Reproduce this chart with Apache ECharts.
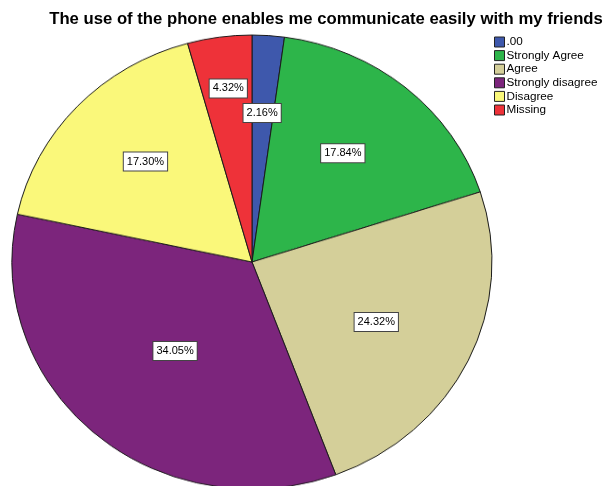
<!DOCTYPE html>
<html>
<head>
<meta charset="utf-8">
<script src="https://cdn.jsdelivr.net/npm/echarts@6/dist/echarts.min.js"></script>
<style>
html,body{margin:0;padding:0;background:#fff;}
#wrap{position:relative;width:606px;height:486px;overflow:hidden;}
#pie{position:absolute;left:0;top:0;width:606px;height:520px;transform:scaleY(0.9458);transform-origin:0 0;}
#c{position:absolute;left:0;top:0;width:606px;height:486px;}
</style>
</head>
<body>
<div id="wrap"><div id="pie"></div><div id="c"></div></div>
<script>
const titleText = 'The use of the phone enables me communicate easily with my friends';
const categories = ['.00', 'Strongly Agree', 'Agree', 'Strongly disagree', 'Disagree', 'Missing'];
const counts = [4, 33, 45, 63, 32, 8];
const percents = [2.16, 17.84, 24.32, 34.05, 17.30, 4.32];

// style settings (not data)
const colors = ['#3E58AC', '#2DB54A', '#D4CF99', '#7C257C', '#FAF87A', '#EE3239'];
const labelRadiusFrac = [0.622, 0.59, 0.575, 0.49, 0.61, 0.73];
const FONT = 'Liberation Sans, Arial, sans-serif';
const SQUASH = 0.9458;

const total = counts.reduce((a, b) => a + b, 0);
let acc = 0;
const midAngles = counts.map(v => { const m = acc + v / 2; acc += v; return m; });

// Pie (drawn on a vertically squashed canvas to give the elliptical look)
const pieChart = echarts.init(document.getElementById('pie'), null, {renderer: 'canvas'});
pieChart.setOption({
  animation: false,
  series: [{
    type: 'pie',
    center: [252, 262 / SQUASH],
    radius: [0, 240],
    startAngle: 90,
    clockwise: true,
    silent: true,
    data: categories.map((name, i) => ({name: name, value: counts[i], itemStyle: {color: colors[i]}})),
    itemStyle: {borderColor: '#1a1a1a', borderWidth: 1},
    label: {show: false},
    labelLine: {show: false}
  }]
});

// Title, legend and percent labels
const chart = echarts.init(document.getElementById('c'), null, {renderer: 'canvas'});
chart.setOption({
  animation: false,
  title: {
    text: titleText,
    left: 326,
    top: 11,
    textAlign: 'center',
    textStyle: {fontFamily: FONT, fontWeight: 'bold', fontSize: 16.7, color: '#000'},
    padding: 0
  },
  legend: {
    orient: 'vertical',
    left: 494,
    top: 36,
    padding: 0,
    itemWidth: 10,
    itemHeight: 10,
    itemGap: 1.6,
    icon: 'rect',
    selectedMode: false,
    data: categories,
    itemStyle: {borderColor: '#222', borderWidth: 1},
    textStyle: {fontFamily: FONT, fontSize: 11.7, color: '#000', padding: [0, 0, 0, -3], lineHeight: 10}
  },
  polar: {center: [252, 262], radius: 240},
  angleAxis: {type: 'value', min: 0, max: total, startAngle: 90, clockwise: true, show: false},
  radiusAxis: {type: 'value', min: 0, max: 1, show: false},
  series: [
    {
      type: 'pie',
      radius: [0, 0],
      center: [-100, -100],
      silent: true,
      data: categories.map((name, i) => ({name: name, value: counts[i], itemStyle: {color: colors[i]}})),
      label: {show: false},
      labelLine: {show: false}
    },
    {
      type: 'scatter',
      coordinateSystem: 'polar',
      silent: true,
      symbolSize: 1,
      itemStyle: {color: 'rgba(0,0,0,0)', opacity: 1},
      data: categories.map((name, i) => ({name: name, value: [labelRadiusFrac[i], midAngles[i]]})),
      label: {
        show: true,
        position: 'inside',
        opacity: 1,
        formatter: p => percents[p.dataIndex].toFixed(2) + '%',
        fontFamily: FONT,
        fontSize: 11,
        color: '#000',
        backgroundColor: '#fff',
        borderColor: '#444',
        borderWidth: 1,
        padding: [4, 3, 3, 3]
      }
    }
  ]
});
</script>
</body>
</html>
